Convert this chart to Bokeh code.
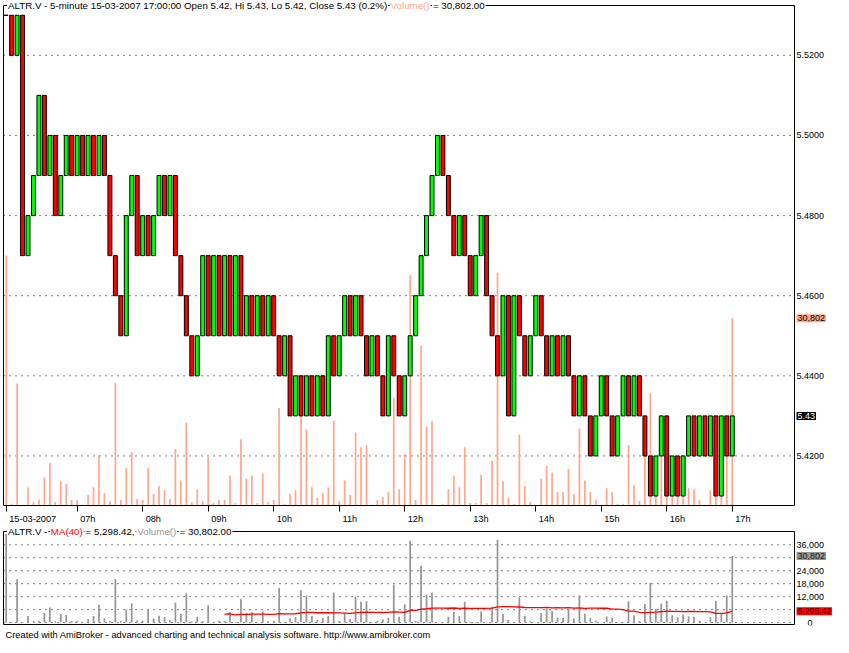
import numpy as np
import pandas as pd
from bokeh.plotting import figure
from bokeh.models import (ColumnDataSource, Range1d, FixedTicker, Label, LabelSet,
                          BoxAnnotation, Title)
from bokeh.layouts import column
from bokeh.embed import file_html
from bokeh.resources import INLINE
from bokeh.core.properties import value

# ---------------- data ----------------
open_px = [5.53, 5.53, 5.52, 5.53, 5.47, 5.48, 5.49, 5.51, 5.49, 5.50,
           5.48, 5.49, 5.50, 5.49, 5.50, 5.49, 5.50, 5.49, 5.50, 5.49,
           5.47, 5.46, 5.45, 5.48, 5.49, 5.47, 5.48, 5.47, 5.48, 5.49,
           5.48, 5.49, 5.47, 5.46, 5.45, 5.44, 5.45, 5.47, 5.45, 5.47,
           5.45, 5.47, 5.45, 5.47, 5.45, 5.46, 5.45, 5.46, 5.45, 5.46,
           5.45, 5.44, 5.45, 5.43, 5.44, 5.43, 5.44, 5.43, 5.44, 5.43,
           5.45, 5.44, 5.45, 5.46, 5.45, 5.46, 5.45, 5.44, 5.45, 5.44,
           5.43, 5.45, 5.44, 5.43, 5.44, 5.45, 5.46, 5.47, 5.48, 5.49,
           5.50, 5.49, 5.48, 5.47, 5.48, 5.47, 5.46, 5.47, 5.48, 5.46,
           5.45, 5.44, 5.46, 5.43, 5.46, 5.45, 5.44, 5.45, 5.46, 5.45,
           5.44, 5.45, 5.44, 5.45, 5.44, 5.43, 5.44, 5.43, 5.42, 5.43,
           5.44, 5.43, 5.42, 5.43, 5.44, 5.43, 5.44, 5.43, 5.42, 5.41,
           5.42, 5.43, 5.41, 5.42, 5.41, 5.42, 5.43, 5.42, 5.43, 5.42,
           5.43, 5.41, 5.43, 5.42]
close_px = [5.53, 5.52, 5.53, 5.47, 5.48, 5.49, 5.51, 5.49, 5.50, 5.48,
            5.49, 5.50, 5.49, 5.50, 5.49, 5.50, 5.49, 5.50, 5.49, 5.47,
            5.46, 5.45, 5.48, 5.49, 5.47, 5.48, 5.47, 5.48, 5.49, 5.48,
            5.49, 5.47, 5.46, 5.45, 5.44, 5.45, 5.47, 5.45, 5.47, 5.45,
            5.47, 5.45, 5.47, 5.45, 5.46, 5.45, 5.46, 5.45, 5.46, 5.45,
            5.44, 5.45, 5.43, 5.44, 5.43, 5.44, 5.43, 5.44, 5.43, 5.45,
            5.44, 5.45, 5.46, 5.45, 5.46, 5.45, 5.44, 5.45, 5.44, 5.43,
            5.45, 5.44, 5.43, 5.44, 5.45, 5.46, 5.47, 5.48, 5.49, 5.50,
            5.49, 5.48, 5.47, 5.48, 5.47, 5.46, 5.47, 5.48, 5.46, 5.45,
            5.44, 5.46, 5.43, 5.46, 5.45, 5.44, 5.45, 5.46, 5.45, 5.44,
            5.45, 5.44, 5.45, 5.44, 5.43, 5.44, 5.43, 5.42, 5.43, 5.44,
            5.43, 5.42, 5.43, 5.44, 5.43, 5.44, 5.43, 5.42, 5.41, 5.42,
            5.43, 5.41, 5.42, 5.41, 5.42, 5.43, 5.42, 5.43, 5.42, 5.43,
            5.41, 5.43, 5.42, 5.43]
volume = [41110, 270, 20050, 110, 3000, 590, 910, 4610, 7020, 590,
          3970, 3480, 910, 910, 110, 1720, 3000, 8310, 2040, 750,
          20200, 910, 6220, 8790, 1070, 910, 6220, 1880, 3160, 2520,
          1070, 9270, 4130, 13610, 590, 2680, 750, 7990, 430, 910,
          910, 4930, 430, 10880, 4450, 4930, 430, 5250, 590, 910,
          16030, 270, 1880, 2520, 15000, 12490, 3000, 1230, 2040, 3000,
          13940, 750, 4130, 1720, 12010, 9590, 9920, 110, 910, 1390,
          2200, 17630, 2680, 8470, 37900, 910, 26320, 13000, 13900, 0,
          270, 2680, 4930, 3000, 9590, 430, 430, 5090, 430, 7340,
          38300, 3970, 1230, 270, 11680, 3160, 590, 0, 4450, 6500,
          5400, 2200, 2200, 6060, 1880, 12650, 4130, 2200, 910, 110,
          2840, 2200, 270, 270, 9920, 3320, 750, 8600, 18440, 6400,
          8700, 10100, 3400, 2340, 3800, 2840, 2680, 910, 110, 2520,
          9950, 4100, 12590, 30802]

tick_bars = [0, 13, 25, 37, 49, 61, 73, 85, 97, 109, 121, 133]
tick_labels = ["15-03-2007", "07h", "08h", "09h", "10h", "11h", "12h",
               "13h", "14h", "15h", "16h", "17h"]
price_ticks = [5.42, 5.44, 5.46, 5.48, 5.50, 5.52]
vol_grid_ticks = [0, 6000, 12000, 18000, 24000, 30000, 36000]
vol_axis_ticks = [12000, 18000, 24000, 36000]
ma_len = 40
last_close_label = "5.43"
last_vol_label = "30,802"
ma_label = "5,298.42"

title_top = ["ALTR.V - 5-minute 15-03-2007 17:00:00 Open 5.42, Hi 5.43, Lo 5.42, Close 5.43 (0.2%)",
             "Volume()", "= 30,802.00"]
title_bottom = ["ALTR.V -", "MA(40)", "= 5,298.42,", "Volume()", "= 30,802.00"]
footer = "Created with AmiBroker - advanced charting and technical analysis software. http://www.amibroker.com"

# ---------------- styling / layout constants ----------------
GREEN = "#00ff00"
RED = "#ff0000"
SALMON = "#ffa98c"
GRAY = "#969696"
FONT = "Liberation Sans"
TFS = 9.75                 # title font size (px)

FR_W = 831                 # frame width (px), frame starts at x=2
BOX_L, BOX_R = 1, 792      # pane border, px inside the frame
BOX_X0, BOX_X1 = -0.49, 144.4
sx = (BOX_R - BOX_L) / (BOX_X1 - BOX_X0)
xr = Range1d(BOX_X0 - BOX_L / sx, BOX_X1 + (FR_W - BOX_R) / sx)

# ---------------- derived series ----------------
x = np.arange(len(close_px))
o = np.array(open_px)
c = np.array(close_px)
colors = np.where(c > o, GREEN, np.where(c < o, RED, "#000000"))
vol = np.array(volume, dtype=float)
ma = pd.Series(vol).rolling(ma_len).mean().to_numpy()
ma[x < ma_len] = np.nan

src = ColumnDataSource(dict(x=x, top=np.maximum(o, c), bot=np.minimum(o, c),
                            color=colors, vol=vol, ma=ma))

# ---------------- price pane ----------------
H1, TOP1, BOT1 = 506, 5, 505          # frame height, border top/bottom (px)
P_TOP, P_BOT = 5.53244, 5.40763
sy = (BOT1 - TOP1) / (P_TOP - P_BOT)
pr = Range1d(P_BOT - (H1 - BOT1) / sy, P_TOP + TOP1 / sy)
VMAX2 = 2 * vol.max()
svy = (BOT1 - TOP1) / VMAX2
vr1 = Range1d(-(H1 - BOT1) / svy, VMAX2 + TOP1 / svy)

p1 = figure(frame_width=FR_W, frame_height=H1, x_range=xr, y_range=pr,
            y_axis_location=None, x_axis_location="below",
            output_backend="svg", toolbar_location=None,
            min_border_left=2, min_border_right=0, min_border_top=0, min_border_bottom=15)
p1.extra_y_ranges = {"vol": vr1}
p1.outline_line_color = None
p1.grid.visible = False

p1.segment(x0=[BOX_X0] * len(price_ticks), x1=[BOX_X1] * len(price_ticks),
           y0=price_ticks, y1=price_ticks, line_color="black", line_dash="1 5", line_width=1)
p1.vbar(x="x", top="vol", bottom=0, width=0.32, source=src, y_range_name="vol",
        fill_color=SALMON, line_color=None)
p1.vbar(x="x", top="top", bottom="bot", width=0.72, source=src,
        fill_color="color", line_color="black", line_width=1)
p1.add_layout(BoxAnnotation(left=BOX_X0, right=BOX_X1, top=P_TOP, bottom=P_BOT,
                            fill_color=None, fill_alpha=0, line_color="black",
                            line_alpha=1, line_width=1))

# x axis: tick marks at bar positions (minor ticks), labels shifted to start right of the tick
lab_w = [47.0 if len(t) > 4 else 15.3 for t in tick_labels]
lab_pos = [round(b + (w / 2 + 3) / sx, 3) for b, w in zip(tick_bars, lab_w)]
xa = p1.xaxis[0]
xa.ticker = FixedTicker(ticks=lab_pos, minor_ticks=tick_bars)
xa.major_label_overrides = {p: t for p, t in zip(lab_pos, tick_labels)}
xa.major_tick_line_color = None
xa.major_tick_out = 0
xa.major_tick_in = 0
xa.minor_tick_line_color = "black"
xa.minor_tick_out = 5
xa.minor_tick_in = 1
xa.axis_line_color = None
xa.major_label_standoff = 2
xa.major_label_text_font = FONT
xa.major_label_text_font_size = "9.2px"
xa.major_label_text_color = "black"

# right-hand price labels
rsrc = ColumnDataSource(dict(x=[BOX_X1] * len(price_ticks), y=price_ticks,
                             text=[f"{v:.4f}" for v in price_ticks]))
p1.add_layout(LabelSet(x="x", y="y", text="text", source=rsrc, x_offset=2,
                       text_align="left", text_baseline="middle",
                       text_font=value(FONT), text_font_size=value("9px"), text_color="black"))
p1.add_layout(Label(x=BOX_X1, y=float(volume[-1]), y_range_name="vol", text=last_vol_label,
                    x_offset=2, text_align="left", text_baseline="middle",
                    text_font=FONT, text_font_size="9px", text_color="black",
                    background_fill_color=SALMON, padding=1))
p1.add_layout(Label(x=BOX_X1, y=close_px[-1], text=last_close_label,
                    x_offset=2, text_align="left", text_baseline="middle",
                    text_font=FONT, text_font_size="9px", text_color="white",
                    background_fill_color="black", padding=1))

# pane title, drawn over the top border
k = TFS / 10.0
offs = [3.5, 3.5 + 392.4 * k, 3.5 + (392.4 + 40.6 + 2.8) * k]
cols = ["black", SALMON, "black"]
for t, xo, col in zip(title_top, offs, cols):
    p1.add_layout(Label(x=BOX_X0, y=P_TOP, text=t, x_offset=xo, text_align="left",
                        text_baseline="middle", text_font=FONT, text_font_size=f"{TFS}px",
                        text_color=col, background_fill_color="white", padding=1))

# ---------------- volume pane ----------------
H2, TOP2, BOT2 = 99, 5, 98
L_TOP, L_BOT = 42140, -880
sly = (BOT2 - TOP2) / (L_TOP - L_BOT)
lr = Range1d(L_BOT - (H2 - BOT2) / sly, L_TOP + TOP2 / sly)

p2 = figure(frame_width=FR_W, frame_height=H2, x_range=xr, y_range=lr,
            y_axis_location=None, x_axis_location=None,
            output_backend="svg", toolbar_location=None,
            min_border_left=2, min_border_right=0, min_border_top=0, min_border_bottom=17)
p2.outline_line_color = None
p2.grid.visible = False

p2.segment(x0=[BOX_X0] * len(vol_grid_ticks), x1=[BOX_X1] * len(vol_grid_ticks),
           y0=vol_grid_ticks, y1=vol_grid_ticks, line_color="black", line_dash="1 5", line_width=1)
p2.vbar(x="x", top="vol", bottom=0, width=0.32, source=src, fill_color=GRAY, line_color=None)
p2.line(x="x", y="ma", source=src, line_color=RED, line_width=1.3)
p2.add_layout(BoxAnnotation(left=BOX_X0, right=BOX_X1, top=L_TOP, bottom=L_BOT,
                            fill_color=None, fill_alpha=0, line_color="black",
                            line_alpha=1, line_width=1))

vsrc = ColumnDataSource(dict(x=[BOX_X1] * len(vol_axis_ticks), y=vol_axis_ticks,
                             text=[f"{v:,.0f}" for v in vol_axis_ticks]))
p2.add_layout(LabelSet(x="x", y="y", text="text", source=vsrc, x_offset=2,
                       text_align="left", text_baseline="middle",
                       text_font=value(FONT), text_font_size=value("9px"), text_color="black"))
p2.add_layout(Label(x=BOX_X1, y=0, text="0", x_offset=13, text_align="left",
                    text_baseline="middle", text_font=FONT, text_font_size="9px",
                    text_color="black"))
p2.add_layout(Label(x=BOX_X1, y=float(volume[-1]), text=last_vol_label, x_offset=2,
                    text_align="left", text_baseline="middle", text_font=FONT,
                    text_font_size="9px", text_color="#222222",
                    background_fill_color=GRAY, padding=1))
p2.add_layout(Label(x=BOX_X1, y=float(ma[-1]), text=ma_label, x_offset=2,
                    text_align="left", text_baseline="middle", text_font=FONT,
                    text_font_size="8.6px", text_color="#400000",
                    background_fill_color=RED, padding=1))

offs2 = [3.5 + v * k for v in (0, 43.9, 79.5, 132.6, 176.0)]
cols2 = ["black", RED, "black", GRAY, "black"]
for t, xo, col in zip(title_bottom, offs2, cols2):
    p2.add_layout(Label(x=BOX_X0, y=L_TOP, text=t, x_offset=xo, text_align="left",
                        text_baseline="middle", text_font=FONT, text_font_size=f"{TFS}px",
                        text_color=col, background_fill_color="white", padding=1))

p2.add_layout(Title(text=footer, align="left", offset=3, standoff=4,
                    text_font=FONT, text_font_size="9.3px", text_font_style="normal",
                    text_color="black"), "below")

layout = column(p1, p2, spacing=0)
open("out.html", "w").write(file_html(layout, INLINE))
